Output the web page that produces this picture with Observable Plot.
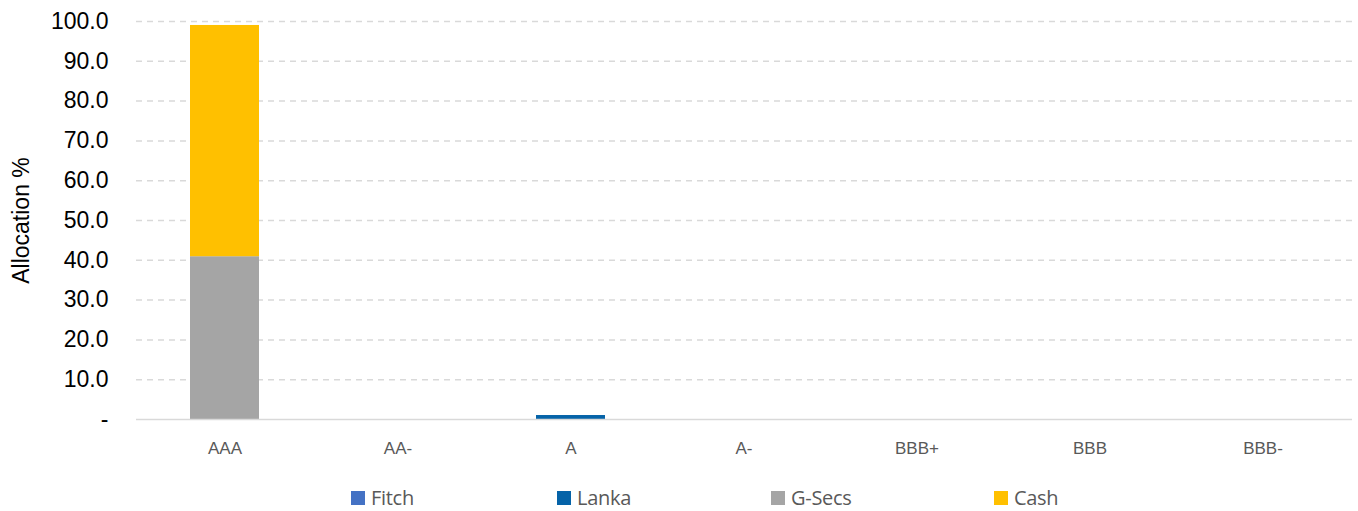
<!DOCTYPE html>
<html>
<head>
<meta charset="utf-8">
<script src="https://cdn.jsdelivr.net/npm/d3@7"></script>
<script src="https://cdn.jsdelivr.net/npm/@observablehq/plot@0.6"></script>
<style>
  html, body { margin: 0; padding: 0; background: #fff; overflow: hidden; }
  #wrap { position: relative; width: 1358px; height: 511px; overflow: hidden; }
  #legend { position: absolute; left: 0; top: 486px; width: 1358px; height: 24px;
    font-family: "Open Sans", sans-serif; font-size: 20px; color: #595959; letter-spacing: -0.3px; }
  .item { position: absolute; top: 0; display: flex; align-items: center; height: 24px; line-height: 24px; }
  .sw { width: 14px; height: 14px; margin-right: 6px; }
</style>
</head>
<body>
<div id="wrap">
  <div id="chart"></div>
  <div id="legend"></div>
</div>
<script>
const ratings = ["AAA", "AA-", "A", "A-", "BBB+", "BBB", "BBB-"];
const seriesNames = ["Fitch", "Lanka", "G-Secs", "Cash"];
const fitch = [0, 0, 0, 0, 0, 0, 0];
const lanka = [0, 0, 1.0, 0, 0, 0, 0];
const gsecs = [40.9, 0, 0, 0, 0, 0, 0];
const cash  = [58.1, 0, 0, 0, 0, 0, 0];
const colors = ["#4472C4", "#0563A8", "#A5A5A5", "#FFC000"];
const yTicks = [0, 10, 20, 30, 40, 50, 60, 70, 80, 90, 100];

const seriesValues = [fitch, lanka, gsecs, cash];
const rows = [];
seriesNames.forEach((s, i) => {
  ratings.forEach((r, j) => rows.push({rating: r, series: s, value: seriesValues[i][j]}));
});

const chart = Plot.plot({
  width: 1358,
  height: 470,
  marginTop: 21,
  marginBottom: 51,
  marginLeft: 136,
  marginRight: 6,
  style: {background: "#fff"},
  x: {domain: ratings, paddingInner: 0.6, paddingOuter: 0.3, label: null},
  y: {domain: [0, 100], label: null},
  color: {domain: seriesNames, range: colors},
  marks: [
    Plot.ruleY(yTicks.filter(d => d > 0), {stroke: "#d9d9d9", strokeWidth: 1.5, strokeDasharray: "6,5"}),
    Plot.barY(rows, {x: "rating", y: "value", fill: "series", order: seriesNames, insetTop: 0, insetBottom: 0}),
    Plot.ruleY([0], {stroke: "#d9d9d9", strokeWidth: 1.5}),
    Plot.axisY({ticks: yTicks, tickSize: 0, tickPadding: 28, tickFormat: d => d === 0 ? "-" : d.toFixed(1),
      fontSize: 23, fontFamily: "Liberation Sans, Arial, sans-serif", fill: "#000", label: null}),
    Plot.axisX({tickSize: 0, tickPadding: 22, fontSize: 17, fontFamily: "Liberation Sans, Arial, sans-serif", fill: "#595959", label: null}),
    Plot.text(["Allocation %"], {frameAnchor: "left", textAnchor: "middle", dx: -115, rotate: -90, fontSize: 23,
      fontFamily: "Liberation Sans, Arial, sans-serif", fill: "#000"})
  ]
});
document.getElementById("chart").appendChild(chart);

const legendX = [351, 557, 771, 994];
const legend = document.getElementById("legend");
seriesNames.forEach((s, i) => {
  const it = document.createElement("div");
  it.className = "item";
  it.style.left = legendX[i] + "px";
  const sw = document.createElement("div");
  sw.className = "sw";
  sw.style.background = colors[i];
  const t = document.createElement("span");
  t.textContent = s;
  it.appendChild(sw); it.appendChild(t);
  legend.appendChild(it);
});
</script>
</body>
</html>
